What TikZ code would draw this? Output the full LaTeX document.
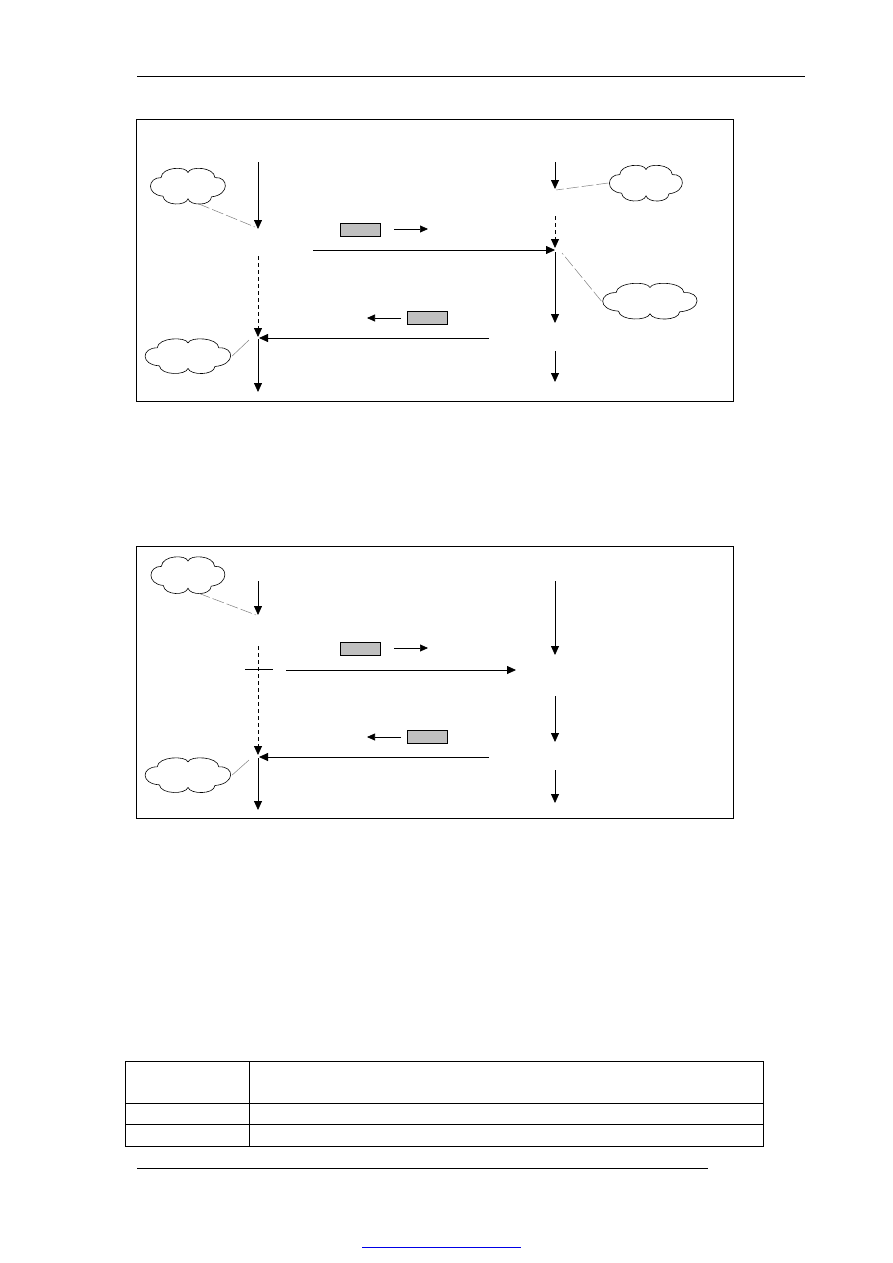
\documentclass[tikz,border=0pt]{standalone}
\usetikzlibrary{arrows.meta, positioning}
\definecolor{msgfill}{RGB}{192,192,192}
\definecolor{linkblue}{RGB}{0,0,230}

\tikzset{
  frame/.style={draw, line width=0.9pt},
  flow/.style={-{Triangle[length=9pt,width=8pt]}, line width=0.8pt},
  gapflow/.style={flow, dash pattern=on 4pt off 3pt},
  notebox/.style={inner sep=0pt},
  msg/.style={draw, fill=msgfill, minimum width=40pt, minimum height=13pt, inner sep=0pt, line width=0.7pt},
  hint/.style={-{Triangle[length=8pt,width=7pt]}, line width=0.7pt},
  leader/.style={draw=gray, line width=0.5pt, dash pattern=on 12pt off 3pt},
  tie/.style={draw=gray, line width=0.5pt},
  puff/.pic={
    \draw[line width=0.6pt, line join=round]
      (-0.70,0.48) .. controls (-0.68,1.1) and (-0.05,1.15) .. (0,0.77)
      .. controls (0.05,1.15) and (0.68,1.1) .. (0.70,0.48)
      .. controls (1.05,0.55) and (1.1,-0.5) .. (0.61,-0.62)
      .. controls (0.6,-1.15) and (0.05,-1.15) .. (0,-0.73)
      .. controls (-0.05,-1.15) and (-0.62,-1.15) .. (-0.65,-0.58)
      .. controls (-1.1,-0.5) and (-1.05,0.5) .. cycle;
  }
}

\begin{document}
\begin{tikzpicture}[x=1pt, y=-1pt]
\useasboundingbox (0,0) rectangle (893,1263);

% page rules
\coordinate (headL) at (137,76);
\coordinate (headR) at (805,76);
\draw[line width=0.8pt] (headL) -- (headR);
\coordinate (footL) at (137,1168);
\coordinate (footR) at (708,1168);
\draw[line width=0.8pt] (footL) -- (footR);
\coordinate (linkL) at (362,1247);
\coordinate (linkR) at (521,1247);
\draw[linkblue, line width=0.8pt] (linkL) -- (linkR);

% ---------- first exchange ----------
\draw[frame] (136,119) rectangle (733,401);

\coordinate (pA1) at (258,162); \coordinate (pA2) at (258,229);
\coordinate (pA3) at (258,256); \coordinate (pA4) at (258,337);
\coordinate (pA5) at (258,339); \coordinate (pA6) at (258,392);
\coordinate (pB1) at (555,162); \coordinate (pB2) at (555,189);
\coordinate (pB3) at (555,216); \coordinate (pB4) at (555,248);
\coordinate (pB5) at (555,252); \coordinate (pB6) at (555,323);
\coordinate (pB7) at (555,351); \coordinate (pB8) at (555,382);
\draw[flow] (pA1) -- (pA2);
\draw[gapflow] (pA3) -- (pA4);
\draw[flow] (pA5) -- (pA6);
\draw[flow] (pB1) -- (pB2);
\draw[gapflow] (pB3) -- (pB4);
\draw[flow] (pB5) -- (pB6);
\draw[flow] (pB7) -- (pB8);

\coordinate (sendA) at (313,250); \coordinate (sendB) at (555,250);
\draw[flow] (sendA) -- (sendB);
\coordinate (backB) at (489,338); \coordinate (backA) at (259,338);
\draw[flow] (backB) -- (backA);

\node[msg] (pktA) at (360,230) {};
\coordinate (hintA1) at (394,229); \coordinate (hintA2) at (428,229);
\draw[hint] (hintA1) -- (hintA2);
\node[msg] (pktB) at (427.5,317.5) {};
\coordinate (hintB1) at (401,318); \coordinate (hintB2) at (367,318);
\draw[hint] (hintB1) -- (hintB2);

\node[notebox, minimum width=77pt, minimum height=35pt] (noteA) at (188,186) {};
\node[notebox, minimum width=88pt, minimum height=34pt] (noteB) at (188,356) {};
\node[notebox, minimum width=75pt, minimum height=35pt] (noteC) at (646,183) {};
\node[notebox, minimum width=97pt, minimum height=35pt] (noteD) at (650,301) {};
\pic[xscale=38.5, yscale=-17.5] at (noteA) {puff};
\pic[xscale=44, yscale=-17] at (noteB) {puff};
\pic[xscale=37.5, yscale=-17.5] at (noteC) {puff};
\pic[xscale=48.5, yscale=-17.5] at (noteD) {puff};
\coordinate (tipA) at (255,227);
\coordinate (tipB) at (249,340);
\coordinate (tipC) at (556,190);
\coordinate (tipD) at (562,253);
\draw[leader] (noteA.-60) -- (tipA);
\draw[tie] (noteB.east) -- (tipB);
\draw[leader] (noteC.west) -- (tipC);
\draw[leader] (noteD.west) -- (tipD);

% ---------- second exchange ----------
\draw[frame] (136,546) rectangle (733,818);

\coordinate (qA1) at (258,581); \coordinate (qA2) at (258,615);
\coordinate (qA3) at (258,646); \coordinate (qA4) at (258,755);
\coordinate (qA5) at (258,758); \coordinate (qA6) at (258,810);
\coordinate (qB1) at (555,581); \coordinate (qB2) at (555,655);
\coordinate (qB3) at (555,696); \coordinate (qB4) at (555,742);
\coordinate (qB5) at (555,770); \coordinate (qB6) at (555,803);
\draw[flow] (qA1) -- (qA2);
\draw[gapflow] (qA3) -- (qA4);
\draw[flow] (qA5) -- (qA6);
\draw[flow] (qB1) -- (qB2);
\draw[flow] (qB3) -- (qB4);
\draw[flow] (qB5) -- (qB6);

% lost message mark
\coordinate (cutL) at (245,669); \coordinate (cutR) at (273,669);
\draw[line width=0.8pt] (cutL) -- (cutR);
\coordinate (sendC) at (286,670); \coordinate (sendD) at (516,670);
\draw[flow] (sendC) -- (sendD);
\coordinate (backD) at (489,757); \coordinate (backC) at (259,757);
\draw[flow] (backD) -- (backC);

\node[msg] (pktC) at (360,649) {};
\coordinate (hintC1) at (394,648); \coordinate (hintC2) at (428,648);
\draw[hint] (hintC1) -- (hintC2);
\node[msg] (pktD) at (427.5,737) {};
\coordinate (hintD1) at (401,737); \coordinate (hintD2) at (367,737);
\draw[hint] (hintD1) -- (hintD2);

\node[notebox, minimum width=76pt, minimum height=36pt] (noteE) at (188,575) {};
\node[notebox, minimum width=88pt, minimum height=34pt] (noteF) at (188,775) {};
\pic[xscale=38, yscale=-18] at (noteE) {puff};
\pic[xscale=44, yscale=-17] at (noteF) {puff};
\coordinate (tipE) at (256,615);
\coordinate (tipF) at (249,760);
\draw[leader] (noteE.-60) -- (tipE);
\draw[tie] (noteF.east) -- (tipF);

% ---------- table ----------
\draw[frame] (125,1061) rectangle (763,1146);
\coordinate (rowA1) at (125,1103); \coordinate (rowA2) at (763,1103);
\coordinate (rowB1) at (125,1124); \coordinate (rowB2) at (763,1124);
\coordinate (colT) at (249,1061); \coordinate (colB) at (249,1146);
\draw[line width=0.9pt] (rowA1) -- (rowA2);
\draw[line width=0.9pt] (rowB1) -- (rowB2);
\draw[line width=0.9pt] (colT) -- (colB);
\end{tikzpicture}
\end{document}
